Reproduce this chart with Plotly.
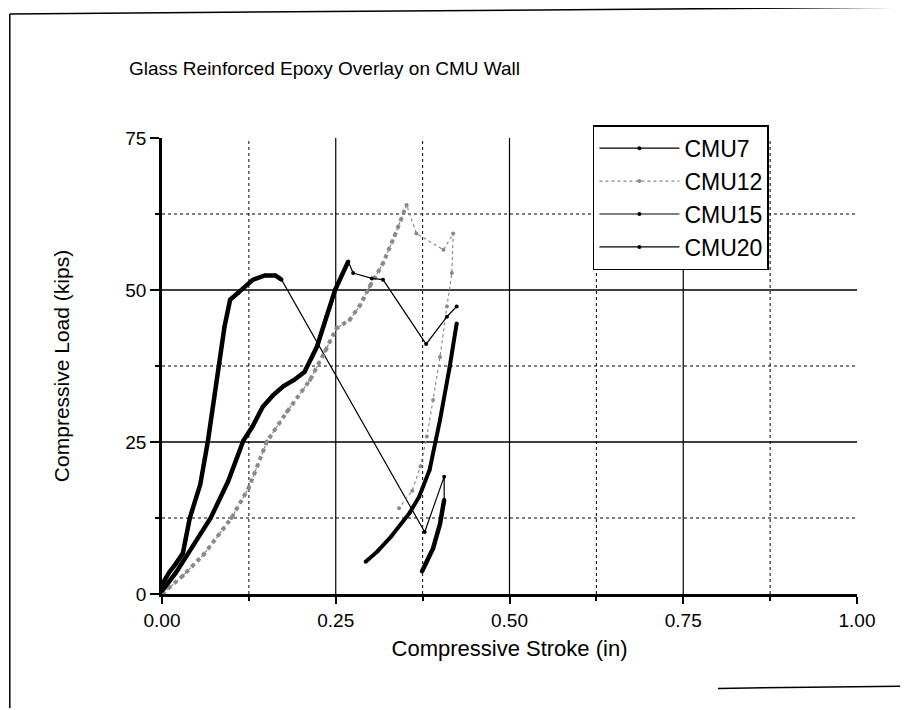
import plotly.graph_objects as go

# data (stroke in inches, load in kips)
cmu7_x = [0.0, 0.01, 0.02, 0.03, 0.04, 0.055, 0.066, 0.075, 0.083, 0.09, 0.098, 0.11,
          0.122, 0.131, 0.148, 0.163, 0.172, 0.378, 0.406, 0.406, 0.40, 0.39, 0.374]
cmu7_y = [1.5, 3.5, 5.0, 6.7, 12.5, 18.0, 25.1, 32.0, 37.9, 44.0, 48.4, 49.5,
          50.8, 51.7, 52.4, 52.4, 51.7, 10.2, 19.3, 15.5, 11.5, 7.5, 3.7]

cmu12_x = [0.0, 0.03, 0.06, 0.10, 0.125, 0.151, 0.18, 0.213, 0.235, 0.251, 0.270, 0.285,
           0.299, 0.318, 0.335, 0.352, 0.366, 0.405, 0.419, 0.417, 0.41, 0.40, 0.39,
           0.381, 0.372, 0.36, 0.341]
cmu12_y = [0.0, 3.0, 6.5, 12.5, 17.5, 25.1, 30.0, 35.2, 40.0, 43.7, 45.1, 47.5,
           50.6, 54.4, 59.0, 64.0, 59.3, 56.6, 59.3, 52.8, 47.3, 39.0, 31.9,
           25.9, 21.0, 17.0, 14.1]

cmu15_x = [0.0, 0.02, 0.045, 0.07, 0.095, 0.117, 0.13, 0.145, 0.16, 0.175, 0.19, 0.205,
           0.223, 0.236, 0.249, 0.268, 0.275, 0.302, 0.318, 0.380, 0.41, 0.424]
cmu15_y = [0.5, 3.5, 8.0, 12.5, 18.5, 25.2, 27.5, 30.8, 32.7, 34.2, 35.2, 36.5,
           40.7, 45.5, 50.0, 54.7, 52.8, 51.9, 51.7, 41.1, 45.6, 47.3]

cmu20_x = [0.424, 0.414, 0.40, 0.385, 0.37, 0.356, 0.33, 0.31, 0.293]
cmu20_y = [44.5, 37.4, 28.6, 20.4, 16.0, 13.3, 9.5, 7.0, 5.3]

x_major = [0.25, 0.50, 0.75]
x_minor = [0.125, 0.375, 0.625, 0.875]
y_major = [25, 50]
y_minor = [12.5, 37.5, 62.5]
x_ticks = [0, 0.25, 0.5, 0.75, 1.0]
x_ticktext = ["0.00", "0.25", "0.50", "0.75", "1.00"]
y_ticks = [0, 25, 50, 75]

FONT = "Liberation Sans, Arial, sans-serif"
GRAY = "#8a8a8a"

fig = go.Figure()


def add_series(name, xs, ys, color, dash, thick_parts):
    # thin line with small dots carries the legend entry
    fig.add_trace(go.Scatter(x=xs, y=ys, name=name, mode="lines+markers",
                             line=dict(color=color, width=1.2, dash=dash),
                             marker=dict(color=color, size=4)))
    # densely sampled stretches look heavy in the original
    for a, b, w in thick_parts:
        fig.add_trace(go.Scatter(x=xs[a:b], y=ys[a:b], mode="lines", showlegend=False,
                                 hoverinfo="skip", line=dict(color=color, width=w, dash=dash)))


add_series("CMU7", cmu7_x, cmu7_y, "black", "solid", [(0, 17, 4.5), (19, 23, 4.5)])
add_series("CMU12", cmu12_x, cmu12_y, GRAY, "dot", [(0, 16, 4)])
add_series("CMU15", cmu15_x, cmu15_y, "black", "solid", [(0, 16, 4.5)])
add_series("CMU20", cmu20_x, cmu20_y, "black", "solid", [(0, 9, 4)])

shapes = []
for v in x_major:
    shapes.append(dict(type="line", xref="x", yref="y", x0=v, x1=v, y0=0, y1=75,
                       line=dict(color="black", width=1.2), layer="below"))
for v in x_minor:
    shapes.append(dict(type="line", xref="x", yref="y", x0=v, x1=v, y0=0, y1=75,
                       line=dict(color="black", width=1, dash="dot"), layer="below"))
for v in y_major:
    shapes.append(dict(type="line", xref="x", yref="y", x0=0, x1=1, y0=v, y1=v,
                       line=dict(color="black", width=1.5), layer="below"))
for v in y_minor:
    shapes.append(dict(type="line", xref="x", yref="y", x0=0, x1=1, y0=v, y1=v,
                       line=dict(color="black", width=1, dash="dot"), layer="below"))
# scanned page frame
shapes.append(dict(type="line", xref="paper", yref="paper", x0=-0.219, x1=1.075, y0=1.272, y1=1.287,
                   line=dict(color="black", width=1.5)))
shapes.append(dict(type="line", xref="paper", yref="paper", x0=-0.219, x1=-0.219, y0=1.272, y1=-0.25,
                   line=dict(color="black", width=1.5)))
shapes.append(dict(type="line", xref="paper", yref="paper", x0=0.80, x1=1.075, y0=-0.207, y1=-0.202,
                   line=dict(color="black", width=1.5)))

fig.update_layout(
    width=908, height=710,
    margin=dict(l=154, r=59, t=130, b=124),
    paper_bgcolor="white", plot_bgcolor="white",
    font=dict(family=FONT, color="black", size=19),
    shapes=shapes,
    annotations=[dict(text="Glass Reinforced Epoxy Overlay on CMU Wall", xref="paper", yref="paper",
                      x=-0.05, y=1.153, xanchor="left", yanchor="middle", showarrow=False,
                      font=dict(family=FONT, size=19))],
    legend=dict(x=0.62, y=1.028, xanchor="left", yanchor="top", bgcolor="white",
                bordercolor="black", borderwidth=1.5, font=dict(family=FONT, size=23),
                itemwidth=80),
    showlegend=True,
)
fig.update_xaxes(range=[0, 1], tickvals=x_ticks, ticktext=x_ticktext, showgrid=False, zeroline=False,
                 showline=True, linecolor="black", linewidth=2.5, ticks="outside", ticklen=7,
                 tickwidth=1.5, tickcolor="black", tickfont=dict(size=19),
                 minor=dict(tickvals=x_minor, ticks="outside", ticklen=4, tickcolor="black"),
                 title=dict(text="Compressive Stroke (in)", font=dict(size=22), standoff=12))
fig.update_yaxes(range=[0, 75], tickvals=y_ticks, showgrid=False, zeroline=False,
                 showline=True, linecolor="black", linewidth=2.5, ticks="outside", ticklen=9,
                 tickwidth=1.5, tickcolor="black", tickfont=dict(size=19),
                 minor=dict(tickvals=y_minor, ticks="outside", ticklen=4, tickcolor="black"),
                 title=dict(text="Compressive Load (kips)", font=dict(size=21), standoff=50))

fig.write_html("out.html")
